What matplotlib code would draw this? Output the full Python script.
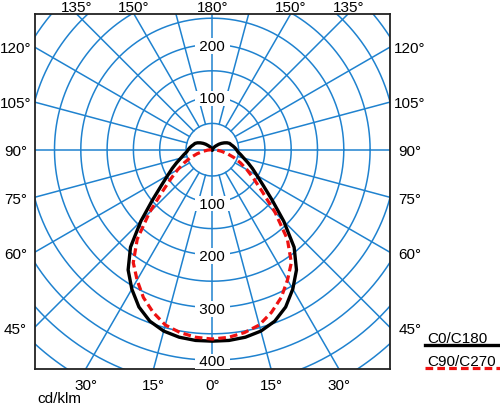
import numpy as np
import matplotlib
matplotlib.use('Agg')
import matplotlib.pyplot as plt
from matplotlib.lines import Line2D

plt.rcParams['font.family'] = ['Liberation Sans', 'DejaVu Sans']

# ---------------- data ----------------
gamma_c0 = list(range(0, 181, 5))
c0_c180 = [364, 364, 362, 357, 347, 330, 306, 279, 242, 192, 148, 118, 98, 84,
           72, 62, 55, 49, 46, 43, 40, 37, 35, 31, 26, 21, 16, 11, 8, 5, 3, 2,
           1, 0, 0, 0, 0]
gamma_c90 = list(range(0, 91, 5))
c90_c270 = [360, 358, 353, 345, 329, 310, 286, 262, 222, 169, 124, 96, 76, 59,
            44, 30, 18, 9, 2]

ring_values = [50, 100, 150, 200, 250, 300, 350, 400, 450, 500, 550]
ring_labels_up = [100, 200]
ring_labels_down = [100, 200, 300, 400]
spoke_angles = list(range(0, 360, 15))
side_labels = [45, 60, 75, 90, 105, 120]
top_labels = [135, 150, 180]
bottom_labels = [30, 15, 0]
series_names = ['C0/C180', 'C90/C270']
unit_label = 'cd/klm'

# ---------------- layout ----------------
W, H = 500, 406
box_l, box_r, box_t, box_b = 34.7, 390.0, 14.7, 370.0
cx, cy = 212.3, 150.7
scale = 0.526  # px per cd/klm

grid_c = '#1f82cf'
fs = 11

fig = plt.figure(figsize=(W / 100, H / 100), dpi=100)
ax = fig.add_axes([box_l / W, 1 - box_b / H, (box_r - box_l) / W, (box_b - box_t) / H])
xmin = (box_l - cx) / scale
xmax = (box_r - cx) / scale
ymax = (cy - box_t) / scale
ymin = -(box_b - cy) / scale
ax.set_xlim(xmin, xmax)
ax.set_ylim(ymin, ymax)
ax.set_aspect('auto')
ax.set_xticks([])
ax.set_yticks([])
for s in ax.spines.values():
    s.set_linewidth(1.3)
    s.set_color('#222222')

# rings
t = np.linspace(0, 2 * np.pi, 721)
for r in ring_values:
    ax.plot(r * np.cos(t), r * np.sin(t), color=grid_c, lw=1.1, zorder=1)

# spokes
R = 1000
for a in spoke_angles:
    g = np.radians(a)
    dx, dy = np.sin(g), -np.cos(g)
    r0 = 0 if a % 90 == 0 else ring_values[0]
    ax.plot([r0 * dx, R * dx], [r0 * dy, R * dy], color=grid_c, lw=1.1, zorder=1)

# ring labels
off = 5.3 / scale
for v in ring_labels_up:
    ax.text(0, v - off, ' %d ' % v, ha='center', va='baseline', fontsize=fs,
            zorder=3, bbox=dict(boxstyle='square,pad=0.05', fc='white', ec='none'))
for v in ring_labels_down:
    ax.text(0, -v - off, ' %d ' % v, ha='center', va='baseline', fontsize=fs,
            zorder=3, bbox=dict(boxstyle='square,pad=0.05', fc='white', ec='none'))

# curves
def curve(gam, vals):
    g = np.radians(np.array(gam, dtype=float))
    v = np.array(vals, dtype=float)
    xr, yr = v * np.sin(g), -v * np.cos(g)
    x = np.concatenate([-xr[::-1], xr[1:]])
    y = np.concatenate([yr[::-1], yr[1:]])
    return x, y

x0, y0 = curve(gamma_c0, c0_c180)
ax.plot(x0, y0, color='black', lw=2.4, zorder=4, solid_joinstyle='round')
x9, y9 = curve(gamma_c90, c90_c270)
ax.plot(x9, y9, color='#ee1111', lw=2.3, zorder=5, dashes=(2.4, 1.3))

# angle labels (outside the box)
def px2data_y(py):
    return (cy - py) / scale

def px2data_x(px):
    return (px - cx) / scale

for a in side_labels:
    g = np.radians(a)
    yy = -np.cos(g) * abs(xmin) / np.sin(g)
    ypx = cy - yy * scale
    ax.text(px2data_x(15.5), px2data_y(ypx + 5.3), '%d°' % a, ha='center',
            va='baseline', fontsize=fs, clip_on=False)
    ax.text(px2data_x(410), px2data_y(ypx + 5.3), '%d°' % a, ha='center',
            va='baseline', fontsize=fs, clip_on=False)

for a in top_labels:
    g = np.radians(a)
    xx = np.sin(g) * ymax / (-np.cos(g))
    for sgn in ([1] if a == 180 else [-1, 1]):
        ax.text(sgn * xx, px2data_y(11.7), '%d°' % a, ha='center', va='baseline',
                fontsize=fs, clip_on=False)

for a in bottom_labels:
    g = np.radians(a)
    xx = np.sin(g) * abs(ymin) / np.cos(g)
    for sgn in ([1] if a == 0 else [-1, 1]):
        ax.text(sgn * xx, px2data_y(390.5), '%d°' % a, ha='center', va='baseline',
                fontsize=fs, clip_on=False)

fig.text(37 / W, 1 - 403 / H, unit_label, ha='left', va='baseline', fontsize=fs)

# legend
fig.text(427 / W, 1 - 343 / H, series_names[0], ha='left', va='baseline', fontsize=fs)
fig.add_artist(Line2D([425 / W, 500 / W], [1 - 346 / H, 1 - 346 / H], color='black',
                      lw=2.4, transform=fig.transFigure))
fig.text(427 / W, 1 - 366 / H, series_names[1], ha='left', va='baseline', fontsize=fs)
fig.add_artist(Line2D([425 / W, 500 / W], [1 - 369 / H, 1 - 369 / H], color='#ee1111',
                      lw=2.3, dashes=(2.4, 1.3), transform=fig.transFigure))

fig.savefig('out.png', dpi=100)
